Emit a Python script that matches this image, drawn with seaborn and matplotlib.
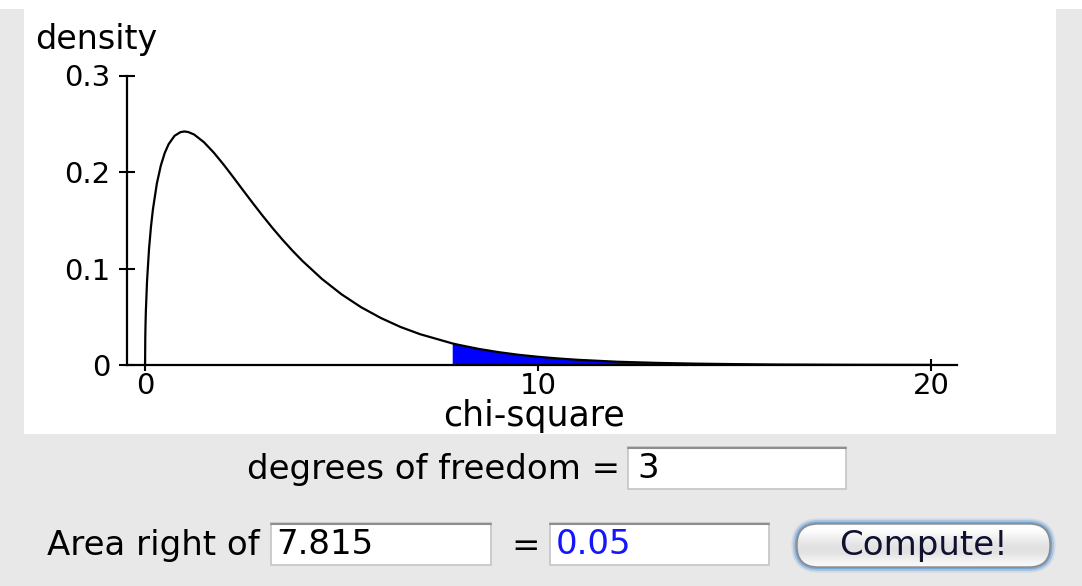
import numpy as np
import seaborn as sns
import matplotlib.pyplot as plt
from matplotlib.patches import Rectangle, FancyBboxPatch
from matplotlib.lines import Line2D

# chi-square density curve (df = 3)
chi_x = [0, 0.005, 0.01, 0.02, 0.05, 0.1, 0.15, 0.2, 0.3, 0.4, 0.5, 0.6, 0.75,
         0.9, 1.0, 1.1, 1.25, 1.5, 1.75, 2.0, 2.25, 2.5, 2.75, 3.0, 3.25, 3.5,
         3.75, 4.0, 4.5, 5.0, 5.5, 6.0, 6.5, 7.0, 7.815, 8.0, 8.5, 9.0, 9.5,
         10.0, 10.5, 11.0, 12.0, 13.0, 14.0, 15.0, 16.0, 18.0, 20.0]
density = [0, 0.0281, 0.0397, 0.0558, 0.0870, 0.1200, 0.1433, 0.1614, 0.1881,
           0.2066, 0.2197, 0.2289, 0.2375, 0.2413, 0.2420, 0.2414, 0.2388,
           0.2308, 0.2200, 0.2076, 0.1943, 0.1807, 0.1673, 0.1542, 0.1416,
           0.1297, 0.1185, 0.1080, 0.0892, 0.0732, 0.0598, 0.0487, 0.0394,
           0.0319, 0.0224, 0.0207, 0.0166, 0.0133, 0.0106, 0.0085, 0.0068,
           0.0054, 0.0034, 0.0022, 0.0014, 0.0009, 0.0005, 0.0002, 0.0001]

x_ticks = [0, 10, 20]
y_ticks = [0, 0.1, 0.2, 0.3]
y_tick_labels = ["0", "0.1", "0.2", "0.3"]

critical_value = 7.815
df_text = "3"
area_text = "0.05"

W, H = 1082, 586
BG = "#e8e8e8"

sns.set_theme(style="white")
plt.rcParams['font.family'] = ['DejaVu Sans']
plt.rcParams['text.color'] = 'black'
plt.rcParams['axes.labelcolor'] = 'black'
plt.rcParams['xtick.color'] = 'black'
plt.rcParams['ytick.color'] = 'black'

fig = plt.figure(figsize=(W / 100, H / 100), dpi=100)
fig.patch.set_facecolor(BG)

# overlay in pixel coordinates for the applet widgets
ov = fig.add_axes([0, 0, 1, 1], zorder=0)
ov.set_xlim(0, W)
ov.set_ylim(H, 0)
ov.axis('off')

ov.add_patch(Rectangle((0, 0), W, 9, facecolor='white', edgecolor='none'))
ov.add_patch(Rectangle((24, 0), 1056 - 24, 434, facecolor='white', edgecolor='none'))

# main plot
ax = fig.add_axes([127 / W, (H - 365) / H, 830 / W, 289.5 / H], zorder=1)
ax.set_facecolor('none')

x_arr = np.array(chi_x)
y_arr = np.array(density)
ax.fill_between(x_arr, 0, y_arr, where=x_arr >= critical_value,
                color='#0000ff', linewidth=0, zorder=2)
sns.lineplot(x=chi_x, y=density, ax=ax, color='black', linewidth=1.6,
             estimator=None, zorder=3)
for line in ax.lines:
    line.set_clip_on(False)

ax.set_xlim(-0.46, 20.66)
ax.set_ylim(0, 0.3)
sns.despine(ax=ax)
for side in ['left', 'bottom']:
    ax.spines[side].set_linewidth(1.6)
    ax.spines[side].set_color('black')
    ax.spines[side].set_zorder(4)

ax.set_xticks(x_ticks)
ax.set_xticklabels([str(t) for t in x_ticks])
ax.set_yticks(y_ticks)
ax.set_yticklabels(y_tick_labels)
ax.tick_params(axis='x', bottom=True, direction='inout', length=8, width=1.5,
               pad=1, labelsize=21)
ax.tick_params(axis='y', left=True, direction='inout', length=12, width=1.5,
               pad=6, labelsize=21)
for t in ax.xaxis.get_major_ticks() + ax.yaxis.get_major_ticks():
    t.tick1line.set_clip_on(False)

ax.set_xlabel("chi-square", fontsize=25)
ax.xaxis.set_label_coords((534 - 127) / 830, (365 - 399) / 289.5)
ax.set_ylabel("")
ov.text(35, 49, "density", fontsize=24, ha='left', va='baseline')


def text_box(x0, y0, x1, y1):
    ov.add_patch(Rectangle((x0, y0), x1 - x0, y1 - y0, facecolor='white',
                           edgecolor='#c4c4c4', linewidth=1.2))
    ov.add_line(Line2D([x0, x1], [y0 + 1, y0 + 1], color='#8e8e8e', linewidth=1.5))


FS = 24.5
ov.text(620, 469, "degrees of freedom =", fontsize=FS, ha='right', va='center')
text_box(628, 447, 846, 489)
ov.text(637, 469, df_text, fontsize=FS, ha='left', va='center')

ov.text(47, 546, "Area right of", fontsize=FS, ha='left', va='center')
text_box(271, 523, 491, 565)
ov.text(276, 545, f"{critical_value:.3f}", fontsize=FS, ha='left', va='center')
ov.text(526, 546, "=", fontsize=FS, ha='center', va='center')
text_box(550, 523, 769, 565)
ov.text(556, 545, area_text, fontsize=FS, ha='left', va='center', color='#1414ff')

# Compute! button with blue glow
bx0, by0, bw, bh = 797, 524, 253, 43
for lw, a in [(8, 0.2), (5.5, 0.4), (3, 0.85)]:
    ov.add_patch(FancyBboxPatch((bx0, by0), bw, bh,
                                boxstyle="round,pad=0,rounding_size=21",
                                facecolor='none', edgecolor='#6f9fd2',
                                linewidth=lw, alpha=a))
btn = FancyBboxPatch((bx0, by0), bw, bh, boxstyle="round,pad=0,rounding_size=21",
                     facecolor='#f2f2f2', edgecolor='#9a9a9a', linewidth=1)
ov.add_patch(btn)
grad = np.array([1.0, 0.99, 0.97, 0.94, 0.91, 0.89, 0.88, 0.89, 0.92, 0.95, 0.97]).reshape(-1, 1)
im = ov.imshow(grad, cmap='gray', vmin=0, vmax=1, aspect='auto',
               extent=[bx0, bx0 + bw, by0 + bh, by0], interpolation='bilinear', zorder=2)
im.set_clip_path(btn)
ov.add_patch(FancyBboxPatch((bx0, by0), bw, bh, boxstyle="round,pad=0,rounding_size=21",
                            facecolor='none', edgecolor='#8a8a8a', linewidth=1, zorder=3))
ov.text(bx0 + bw / 2, 546, "Compute!", fontsize=FS, ha='center', va='center',
        color='#101030', zorder=4)
ov.set_xlim(0, W)
ov.set_ylim(H, 0)

fig.savefig("out.png", dpi=100, facecolor=fig.get_facecolor())
